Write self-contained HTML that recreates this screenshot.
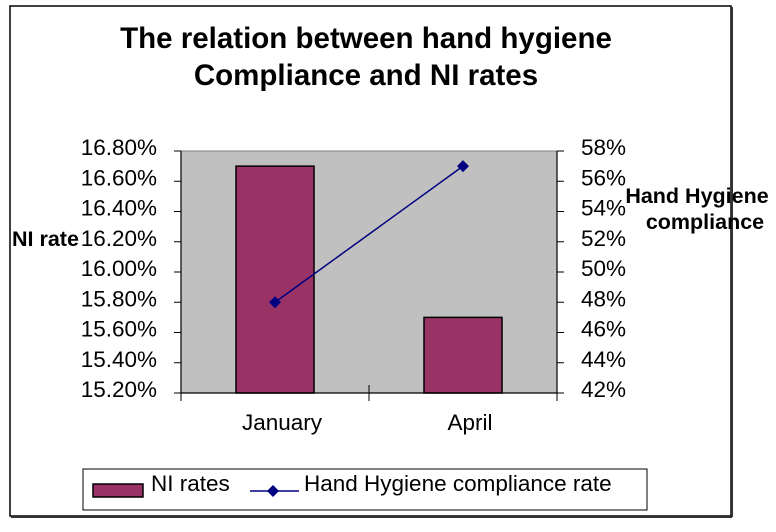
<!DOCTYPE html>
<html><head><meta charset="utf-8"><style>
body{margin:0;background:#fff;}
svg text{font-family:"Liberation Sans",Arial,sans-serif;}
</style></head><body>
<svg width="776" height="527" viewBox="0 0 776 527" xmlns="http://www.w3.org/2000/svg">
<rect x="10" y="6" width="721" height="510" fill="#fff" stroke="#000" stroke-width="1.5"/>
<line x1="732" y1="7" x2="732" y2="517" stroke="#333" stroke-width="2"/>
<line x1="11" y1="517" x2="732" y2="517" stroke="#333" stroke-width="2"/>
<text x="366" y="48" font-size="29.5" font-weight="bold" text-anchor="middle">The relation between hand hygiene</text>
<text x="366" y="85" font-size="29.5" font-weight="bold" text-anchor="middle">Compliance and NI rates</text>
<rect x="181" y="151" width="376" height="242" fill="#c0c0c0" stroke="#808080" stroke-width="1"/>
<g id="g"></g>
<text x="12" y="246" font-size="21.5" font-weight="bold">NI rate</text>
<text x="697" y="203" font-size="21.5" font-weight="bold" text-anchor="middle">Hand Hygiene</text>
<text x="705" y="229" font-size="21.5" font-weight="bold" text-anchor="middle">compliance</text>
<rect x="83" y="469" width="564" height="41" fill="#fff" stroke="#000" stroke-width="1"/>
<rect x="93" y="484" width="50" height="13" fill="#993366" stroke="#000" stroke-width="1.5"/>
<text x="151" y="491" font-size="22.5">NI rates</text>
<line x1="250" y1="491" x2="299" y2="491" stroke="#000080" stroke-width="1.5"/>
<path d="M273 485 L279 491 L273 497 L267 491 Z" fill="#000080"/>
<text x="304" y="491" font-size="22.5">Hand Hygiene compliance rate</text>
</svg>
<script>
const categories=["January","April"];
const niRates=[16.70,15.70];
const compliance=[48,57];
const leftTicks=["15.20%","15.40%","15.60%","15.80%","16.00%","16.20%","16.40%","16.60%","16.80%"];
const rightTicks=["42%","44%","46%","48%","50%","52%","54%","56%","58%"];
const L=181,R=557,T=151,B=393;
const yL=v=>B-(v-15.2)/1.6*(B-T);
const yR=v=>B-(v-42)/16*(B-T);
const xC=i=>L+(i+0.5)*(R-L)/categories.length;
const ns="http://www.w3.org/2000/svg";
const g=document.getElementById('g');
function mk(t,a){const e=document.createElementNS(ns,t);for(const k in a)e.setAttribute(k,a[k]);g.appendChild(e);return e;}
niRates.forEach((v,i)=>{
 const e=mk('rect',{x:xC(i)-39,y:yL(v),width:78,height:B-yL(v),fill:'#993366',stroke:'#000','stroke-width':1.5});
 
 
});
const ax=[[L,T,L,B],[L,B,R,B],[R,T,R,B]];
ax.forEach(a=>{mk('line',{x1:a[0],y1:a[1],x2:a[2],y2:a[3],stroke:'#000','stroke-width':1.2});});
leftTicks.forEach((t,i)=>{
 const y=B-i*(B-T)/(leftTicks.length-1);
 mk('line',{x1:L-7,y1:y,x2:L,y2:y,stroke:'#000'});
 const e=mk('text',{x:157,y:y+4,'font-size':22.5,'text-anchor':'end'});e.textContent=t;
 
 
});
rightTicks.forEach((t,i)=>{
 const y=B-i*(B-T)/(rightTicks.length-1);
 mk('line',{x1:R,y1:y,x2:R+7,y2:y,stroke:'#000'});
 const e=mk('text',{x:581,y:y+4,'font-size':22.5});e.textContent=t;
 
 
});
for(let i=0;i<=categories.length;i++){const x=L+i*(R-L)/categories.length;mk('line',{x1:x,y1:B-(i>0&&i<categories.length?8:0),x2:x,y2:B+8,stroke:'#000'});}
categories.forEach((c,i)=>{
 const e=mk('text',{x:xC(i)+7,y:430,'font-size':22.5,'text-anchor':'middle'});e.textContent=c;
 
 
});
const pts=compliance.map((v,i)=>xC(i)+','+yR(v)).join(' ');
const pl=mk('polyline',{points:pts,fill:'none',stroke:'#000080','stroke-width':1.5});


compliance.forEach((v,i)=>{
 const x=xC(i),y=yR(v);
 const e=mk('path',{d:`M${x} ${y-6}L${x+6} ${y}L${x} ${y+6}L${x-6} ${y}Z`,fill:'#000080'});
 
 
});
</script>
</body></html>
